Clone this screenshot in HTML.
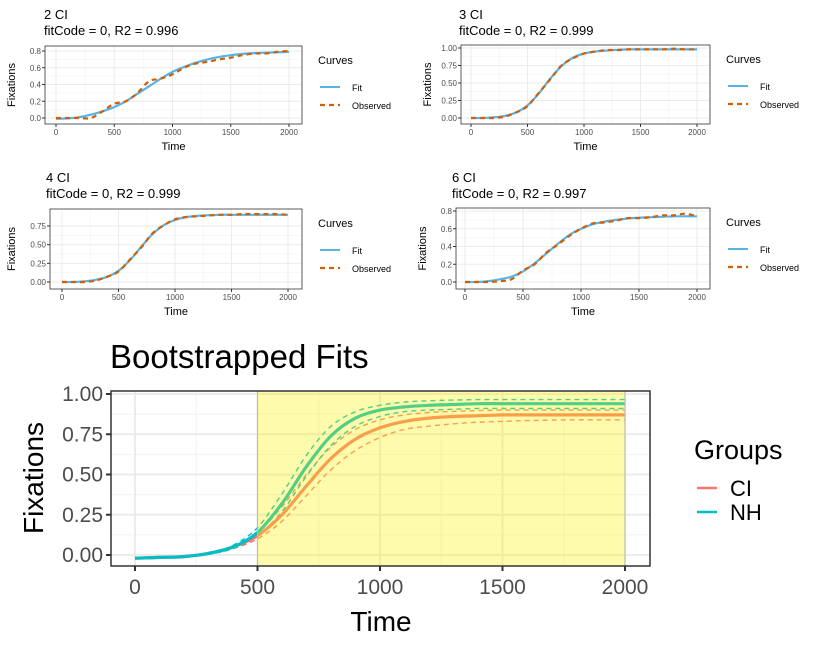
<!DOCTYPE html>
<html><head><meta charset="utf-8"><style>
body{margin:0;background:#fff;font-family:"Liberation Sans",sans-serif}
svg text{font-family:"Liberation Sans",sans-serif}
</style></head><body>
<svg id="c" width="819" height="654" xmlns="http://www.w3.org/2000/svg"></svg>
<script>
const times=[0,100,200,300,400,500,600,700,800,900,1000,1100,1200,1300,1400,1500,1600,1700,1800,1900,2000];
const fit2=[-0.01,-0.005,0.01,0.04,0.08,0.13,0.2,0.29,0.38,0.47,0.55,0.61,0.66,0.7,0.73,0.75,0.765,0.775,0.78,0.785,0.79];
const obs2=[0,0,0,0,0.08,0.17,0.2,0.3,0.44,0.47,0.52,0.6,0.65,0.67,0.7,0.72,0.75,0.77,0.77,0.79,0.8];
const fit3=[0,0,0.01,0.03,0.08,0.18,0.35,0.56,0.74,0.86,0.92,0.95,0.965,0.975,0.98,0.98,0.98,0.98,0.98,0.98,0.98];
const obs3=[0,0,0,0.02,0.08,0.17,0.36,0.55,0.75,0.85,0.92,0.95,0.97,0.97,0.98,0.98,0.98,0.98,0.99,0.98,0.98];
const fit4=[0,0,0.01,0.03,0.07,0.15,0.29,0.47,0.64,0.76,0.83,0.87,0.885,0.895,0.9,0.9,0.9,0.9,0.9,0.9,0.9];
const obs4=[0,0,0,0.02,0.07,0.14,0.3,0.46,0.65,0.76,0.84,0.87,0.88,0.89,0.9,0.9,0.91,0.91,0.91,0.91,0.9];
const fit6=[0,0,0.01,0.03,0.06,0.12,0.21,0.32,0.43,0.53,0.6,0.65,0.68,0.7,0.715,0.725,0.73,0.735,0.74,0.74,0.74];
const obs6=[0,0,0,0.01,0.03,0.13,0.2,0.33,0.42,0.52,0.6,0.66,0.67,0.69,0.72,0.72,0.73,0.75,0.75,0.77,0.74];
const nhFit=[-0.02,-0.015,-0.01,0.01,0.05,0.14,0.32,0.55,0.74,0.85,0.9,0.92,0.93,0.935,0.94,0.94,0.94,0.94,0.94,0.94,0.94];
const nhHi=[-0.02,-0.015,-0.005,0.015,0.06,0.17,0.38,0.62,0.8,0.89,0.93,0.95,0.958,0.962,0.965,0.965,0.965,0.965,0.965,0.965,0.965];
const nhLo=[-0.02,-0.015,-0.01,0.005,0.04,0.12,0.27,0.49,0.68,0.8,0.86,0.89,0.9,0.905,0.91,0.91,0.91,0.91,0.91,0.91,0.91];
const ciFit=[-0.02,-0.015,-0.01,0.01,0.05,0.12,0.25,0.43,0.6,0.72,0.79,0.83,0.85,0.86,0.865,0.87,0.87,0.87,0.87,0.87,0.87];
const ciHi=[-0.02,-0.015,-0.005,0.015,0.055,0.14,0.3,0.5,0.67,0.78,0.84,0.87,0.885,0.892,0.897,0.9,0.9,0.9,0.9,0.9,0.9];
const ciLo=[-0.02,-0.015,-0.01,0.005,0.04,0.1,0.21,0.37,0.53,0.65,0.73,0.78,0.8,0.815,0.825,0.83,0.835,0.838,0.84,0.84,0.84];
const xTicks=[0,500,1000,1500,2000];
const NS="http://www.w3.org/2000/svg";
const svg=document.getElementById('c');
function el(t,a,p){const e=document.createElementNS(NS,t);for(const k in a)e.setAttribute(k,a[k]);(p||svg).appendChild(e);return e;}
function txt(s,a,p){const e=el('text',a,p);e.textContent=s;return e;}
function path(xs,ys,sx,sy){
  const P=xs.map((v,i)=>[sx(v),sy(ys[i])]);
  let d='M'+P[0][0].toFixed(1)+','+P[0][1].toFixed(1);
  for(let i=0;i<P.length-1;i++){
    const p0=P[Math.max(0,i-1)],p1=P[i],p2=P[i+1],p3=P[Math.min(P.length-1,i+2)];
    const c1=[p1[0]+(p2[0]-p0[0])/6,p1[1]+(p2[1]-p0[1])/6];
    const c2=[p2[0]-(p3[0]-p1[0])/6,p2[1]-(p3[1]-p1[1])/6];
    d+='C'+c1[0].toFixed(1)+','+c1[1].toFixed(1)+' '+c2[0].toFixed(1)+','+c2[1].toFixed(1)+' '+p2[0].toFixed(1)+','+p2[1].toFixed(1);
  }
  return d;
}

function small(o){
  const g=el('g',{});
  
  
  const sx=v=>o.x0+(v/2000)*(o.x1-o.x0);
  const sy=v=>o.y0-(v/o.ytop)*(o.y0-o.y1);
  el('rect',{x:o.bx0,y:o.by0,width:o.bx1-o.bx0,height:o.by1-o.by0,fill:'#fff'},g);
  [250,750,1250,1750].forEach(v=>el('line',{x1:sx(v),x2:sx(v),y1:o.by0,y2:o.by1,stroke:'#f2f2f2','stroke-width':0.6},g));
  for(let k=0;k<o.yt.length-1;k++){const m=(o.yt[k]+o.yt[k+1])/2;el('line',{x1:o.bx0,x2:o.bx1,y1:sy(m),y2:sy(m),stroke:'#f2f2f2','stroke-width':0.6},g);}
  xTicks.forEach(v=>{el('line',{x1:sx(v),x2:sx(v),y1:o.by0,y2:o.by1,stroke:'#ebebeb','stroke-width':1},g);
    el('line',{x1:sx(v),x2:sx(v),y1:o.by1,y2:o.by1+3,stroke:'#333'},g);
    const t=txt(String(v),{x:sx(v),y:o.by1+11,'font-size':8,fill:'#4d4d4d','text-anchor':'middle'},g);
    });
  o.yt.forEach((v,i)=>{el('line',{x1:o.bx0,x2:o.bx1,y1:sy(v),y2:sy(v),stroke:'#ebebeb'},g);
    el('line',{x1:o.bx0-3,x2:o.bx0,y1:sy(v),y2:sy(v),stroke:'#333'},g);
    const t=txt(o.yl[i],{x:o.bx0-4,y:sy(v)+3,'font-size':8,fill:'#4d4d4d','text-anchor':'end'},g);
    });
  const f=el('path',{d:path(times,o.fit,sx,sy),fill:'none',stroke:'#56B4E9','stroke-width':2.2},g);
  
  const ob=el('path',{d:path(times,o.obs,sx,sy),fill:'none',stroke:'#D55E00','stroke-width':2.2,'stroke-dasharray':'5,4'},g);
  
  el('rect',{x:o.bx0,y:o.by0,width:o.bx1-o.bx0,height:o.by1-o.by0,fill:'none',stroke:'#333','stroke-width':0.8},g);
  let t=txt(o.t1,{x:o.tx,y:o.ty,'font-size':13,fill:'#000'},g);
  t=txt(o.t2,{x:o.tx,y:o.ty+16,'font-size':13,fill:'#000'},g);
  t=txt('Time',{x:(o.bx0+o.bx1)/2,y:o.by1+26,'font-size':11,'text-anchor':'middle'},g);
  t=txt('Fixations',{x:0,y:0,'font-size':11,'text-anchor':'middle',transform:`translate(${o.fx},${(o.by0+o.by1)/2}) rotate(-90)`},g);
  const lx=o.bx1+16, ly=o.by0+18;
  t=txt('Curves',{x:lx,y:ly,'font-size':11},g);
  el('line',{x1:lx+2,x2:lx+22,y1:ly+23,y2:ly+23,stroke:'#56B4E9','stroke-width':2},g);
  t=txt('Fit',{x:lx+34,y:ly+27,'font-size':9},g);
  el('line',{x1:lx+2,x2:lx+22,y1:ly+41,y2:ly+41,stroke:'#D55E00','stroke-width':2.2,'stroke-dasharray':'5,4'},g);
  t=txt('Observed',{x:lx+34,y:ly+45,'font-size':9},g);
}
small({name:'panel-2ci',bx0:45,bx1:302,by0:46,by1:124,x0:56,x1:289,y0:118,y1:51,ytop:0.8,yt:[0,0.2,0.4,0.6,0.8],yl:['0.0','0.2','0.4','0.6','0.8'],fit:fit2,obs:obs2,t1:'2 CI',t2:'fitCode = 0, R2 = 0.996',tx:44,ty:19,fx:15});
small({name:'panel-3ci',bx0:461,bx1:710,by0:45,by1:124,x0:471,x1:697,y0:118,y1:48,ytop:1,yt:[0,0.25,0.5,0.75,1],yl:['0.00','0.25','0.50','0.75','1.00'],fit:fit3,obs:obs3,t1:'3 CI',t2:'fitCode = 0, R2 = 0.999',tx:459,ty:19,fx:431});
small({name:'panel-4ci',bx0:50,bx1:302,by0:209,by1:289,x0:62,x1:288,y0:282,y1:226,ytop:0.75,yt:[0,0.25,0.5,0.75],yl:['0.00','0.25','0.50','0.75'],fit:fit4,obs:obs4,t1:'4 CI',t2:'fitCode = 0, R2 = 0.999',tx:46,ty:182,fx:15});
small({name:'panel-6ci',bx0:456,bx1:710,by0:208,by1:289,x0:465,x1:697,y0:282,y1:211,ytop:0.8,yt:[0,0.2,0.4,0.6,0.8],yl:['0.0','0.2','0.4','0.6','0.8'],fit:fit6,obs:obs6,t1:'6 CI',t2:'fitCode = 0, R2 = 0.997',tx:452,ty:182,fx:426});

(function(){
  const g=el('g',{});
  
  
  const bx0=111,bx1=650,by0=391,by1=566;
  const sx=v=>135+(v/2000)*490;
  const sy=v=>555-v*161;
  [250,750,1250,1750].forEach(v=>el('line',{x1:sx(v),x2:sx(v),y1:by0,y2:by1,stroke:'#f2f2f2','stroke-width':1},g));
  [0.125,0.375,0.625,0.875].forEach(v=>el('line',{x1:bx0,x2:bx1,y1:sy(v),y2:sy(v),stroke:'#f2f2f2','stroke-width':1},g));
  xTicks.forEach(v=>{el('line',{x1:sx(v),x2:sx(v),y1:by0,y2:by1,stroke:'#ebebeb','stroke-width':2},g);
    el('line',{x1:sx(v),x2:sx(v),y1:by1,y2:by1+5,stroke:'#333','stroke-width':2},g);
    const t=txt(String(v),{x:sx(v),y:by1+28,'font-size':21,fill:'#4d4d4d','text-anchor':'middle'},g);
    });
  const yt=[0,0.25,0.5,0.75,1],yl=['0.00','0.25','0.50','0.75','1.00'];
  yt.forEach((v,i)=>{el('line',{x1:bx0,x2:bx1,y1:sy(v),y2:sy(v),stroke:'#ebebeb','stroke-width':2},g);
    el('line',{x1:bx0-5,x2:bx0,y1:sy(v),y2:sy(v),stroke:'#333','stroke-width':2},g);
    const t=txt(yl[i],{x:bx0-8,y:sy(v)+7,'font-size':21,fill:'#4d4d4d','text-anchor':'end'},g);
    });
  const lines=[[ciLo,'#F8766D','ci-lower-bound'],[ciHi,'#F8766D','ci-upper-bound'],[nhLo,'#00BFC4','nh-lower-bound'],[nhHi,'#00BFC4','nh-upper-bound']];
  lines.forEach(l=>{const p=el('path',{d:path(times,l[0],sx,sy),fill:'none',stroke:l[1],'stroke-width':1.4,'stroke-dasharray':'5,4'},g);
    });
  let p=el('path',{d:path(times,ciFit,sx,sy),fill:'none',stroke:'#F8766D','stroke-width':3.2},g);
  
  p=el('path',{d:path(times,nhFit,sx,sy),fill:'none',stroke:'#00BFC4','stroke-width':3.2},g);
  
  const r=el('rect',{x:sx(500),y:by0,width:sx(2000)-sx(500),height:by1-by0,fill:'#fbf200','fill-opacity':0.32,stroke:'#bbb','stroke-width':1},g);
  
  el('rect',{x:bx0,y:by0,width:bx1-bx0,height:by1-by0,fill:'none',stroke:'#333','stroke-width':1.5},g);
  let t=txt('Bootstrapped Fits',{x:110,y:368,'font-size':33},g);
  t=txt('Time',{x:381,y:631,'font-size':28,'text-anchor':'middle'},g);
  t=txt('Fixations',{x:0,y:0,'font-size':28,'text-anchor':'middle',transform:'translate(43,478) rotate(-90)'},g);
  t=txt('Groups',{x:694,y:459,'font-size':27},g);
  el('line',{x1:697,x2:717,y1:488,y2:488,stroke:'#F8766D','stroke-width':2.5},g);
  t=txt('CI',{x:730,y:496,'font-size':22},g);
  el('line',{x1:697,x2:717,y1:512,y2:512,stroke:'#00BFC4','stroke-width':2.5},g);
  t=txt('NH',{x:730,y:520,'font-size':22},g);
})();
</script>
</body></html>
